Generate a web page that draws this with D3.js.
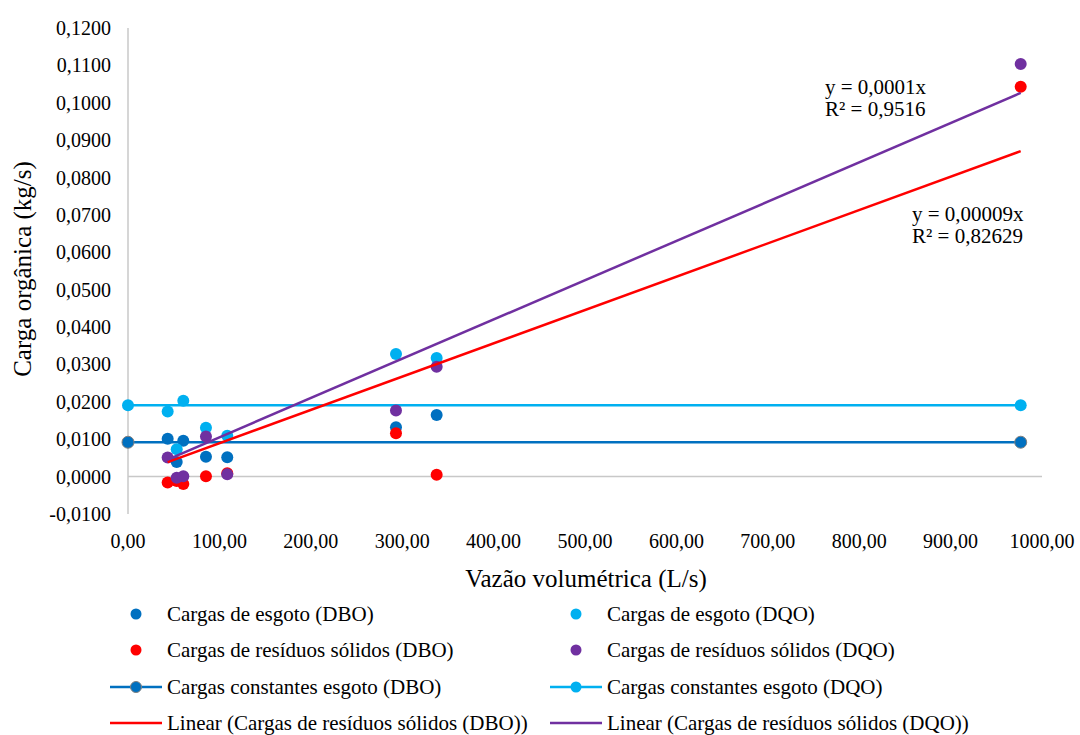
<!DOCTYPE html>
<html>
<head>
<meta charset="utf-8">
<script src="https://cdn.jsdelivr.net/npm/d3@7"></script>
<style>
  body { margin: 0; background: #fff; }
  text { font-family: "Liberation Serif", "Times New Roman", serif; fill: #000; }
</style>
</head>
<body>
<div class="canvas"></div>
<script>
// data
const vazao = [43.4, 53.3, 60.5, 85.3, 108.6, 293.2, 337.7];
const vazaoRes = [43.4, 53.3, 60.5, 85.3, 108.6, 293.2, 337.7, 976.7];
const esgotoDBO = [0.0101, 0.0039, 0.0096, 0.0053, 0.0052, 0.0132, 0.0165];
const esgotoDQO = [0.0174, 0.0073, 0.0203, 0.0131, 0.0109, 0.0328, 0.0317];
const residuosDBO = [-0.0016, -0.0012, -0.0020, 0.0001, 0.0009, 0.0116, 0.0005, 0.1043];
const residuosDQO = [0.0051, -0.0003, 0.0001, 0.0107, 0.0006, 0.0177, 0.0294, 0.1104];
const constX = [0, 976.7];
const constDBO = [0.0092, 0.0092];
const constDQO = [0.0191, 0.0191];
const xTicks = [0, 100, 200, 300, 400, 500, 600, 700, 800, 900, 1000];
const yTicks = [-0.01, 0, 0.01, 0.02, 0.03, 0.04, 0.05, 0.06, 0.07, 0.08, 0.09, 0.10, 0.11, 0.12];
const eqDQO = ['y = 0,0001x', 'R² = 0,9516'];
const eqDBO = ['y = 0,00009x', 'R² = 0,82629'];

const colours = { dbo: '#0070C0', dqo: '#00B0F0', red: '#FF0000', purple: '#7030A0' };

const dims = { width: 1080, height: 735 };
const svg = d3.select('.canvas')
    .append('svg')
    .attr('width', dims.width)
    .attr('height', dims.height);

const x = d3.scaleLinear().domain([0, 1000]).range([128, 1042]);
const y = d3.scaleLinear().domain([-0.01, 0.12]).range([514, 28]);

const fmtY = d => d3.format('.4f')(d).replace('.', ',').replace('−', '-');
const fmtX = d => d3.format('.2f')(d).replace('.', ',');

// axis lines (Excel style, x axis crosses at 0)
svg.append('line')
    .attr('x1', x(0)).attr('x2', x(0))
    .attr('y1', y(0.12)).attr('y2', y(-0.01))
    .attr('stroke', '#c8c8c8').attr('stroke-width', 1.5);
svg.append('line')
    .attr('x1', x(0)).attr('x2', x(1000))
    .attr('y1', y(0)).attr('y2', y(0))
    .attr('stroke', '#c8c8c8').attr('stroke-width', 1.5);

// tick labels
svg.append('g').selectAll('text')
    .data(yTicks)
    .join('text')
    .attr('x', 111)
    .attr('y', d => y(d))
    .attr('dy', '0.35em')
    .attr('text-anchor', 'end')
    .attr('font-size', 20)
    .text(fmtY);

svg.append('g').selectAll('text')
    .data(xTicks)
    .join('text')
    .attr('x', d => x(d))
    .attr('y', 548)
    .attr('text-anchor', 'middle')
    .attr('font-size', 20)
    .text(fmtX);

// axis titles
svg.append('text')
    .attr('transform', 'translate(31, 269) rotate(-90)')
    .attr('text-anchor', 'middle')
    .attr('font-size', 25)
    .text('Carga orgânica (kg/s)');
svg.append('text')
    .attr('x', 586).attr('y', 587)
    .attr('text-anchor', 'middle')
    .attr('font-size', 25)
    .text('Vazão volumétrica (L/s)');

const line = d3.line().x(d => x(d[0])).y(d => y(d[1]));
const graph = svg.append('g');

// constant lines
const constants = [
    { vals: constDBO, colour: colours.dbo, stroke: '#7f7f7f' },
    { vals: constDQO, colour: colours.dqo, stroke: 'none' }
];
constants.forEach(c => {
    const pts = d3.zip(constX, c.vals);
    graph.append('path')
        .attr('d', line(pts))
        .attr('fill', 'none')
        .attr('stroke', c.colour)
        .attr('stroke-width', 2.5);
    graph.selectAll(null)
        .data(pts)
        .join('circle')
        .attr('cx', d => x(d[0]))
        .attr('cy', d => y(d[1]))
        .attr('r', 6)
        .attr('fill', c.colour)
        .attr('stroke', c.stroke)
        .attr('stroke-width', 1);
});

// scatter series
const scatter = [
    { xs: vazao, ys: esgotoDBO, colour: colours.dbo },
    { xs: vazao, ys: esgotoDQO, colour: colours.dqo },
    { xs: vazaoRes, ys: residuosDBO, colour: colours.red },
    { xs: vazaoRes, ys: residuosDQO, colour: colours.purple }
];
scatter.forEach(s => {
    graph.selectAll(null)
        .data(d3.zip(s.xs, s.ys))
        .join('circle')
        .attr('cx', d => x(d[0]))
        .attr('cy', d => y(d[1]))
        .attr('r', 6)
        .attr('fill', s.colour);
});

// linear trendlines through origin (least squares)
const slope = (xs, ys) => d3.sum(xs, (v, i) => v * ys[i]) / d3.sum(xs, v => v * v);
[
    { ys: residuosDBO, colour: colours.red },
    { ys: residuosDQO, colour: colours.purple }
].forEach(t => {
    const m = slope(vazaoRes, t.ys);
    const [x0, x1] = d3.extent(vazaoRes);
    graph.append('path')
        .attr('d', line([[x0, m * x0], [x1, m * x1]]))
        .attr('fill', 'none')
        .attr('stroke', t.colour)
        .attr('stroke-width', 2.5);
});

// trendline equations
const eq = (lines, px, py) => {
    svg.append('text')
        .attr('x', px).attr('y', py)
        .attr('font-size', 21)
        .selectAll('tspan')
        .data(lines)
        .join('tspan')
        .attr('x', px)
        .attr('dy', (d, i) => i ? 22 : 0)
        .text(d => d);
};
eq(eqDQO, 825, 94);
eq(eqDBO, 912, 221);

// legend
const legendItems = [
    { label: 'Cargas de esgoto (DBO)', colour: colours.dbo, type: 'dot' },
    { label: 'Cargas de esgoto (DQO)', colour: colours.dqo, type: 'dot' },
    { label: 'Cargas de resíduos sólidos (DBO)', colour: colours.red, type: 'dot' },
    { label: 'Cargas de resíduos sólidos (DQO)', colour: colours.purple, type: 'dot' },
    { label: 'Cargas constantes esgoto (DBO)', colour: colours.dbo, type: 'linedot', stroke: '#7f7f7f' },
    { label: 'Cargas constantes esgoto (DQO)', colour: colours.dqo, type: 'linedot', stroke: 'none' },
    { label: 'Linear (Cargas de resíduos sólidos (DBO))', colour: colours.red, type: 'line' },
    { label: 'Linear (Cargas de resíduos sólidos (DQO))', colour: colours.purple, type: 'line' }
];
const colX = [110, 550];
const rowY = [614, 650, 687, 723];
const legend = svg.append('g');
legendItems.forEach((d, i) => {
    const g = legend.append('g')
        .attr('transform', `translate(${colX[i % 2]}, ${rowY[Math.floor(i / 2)]})`);
    if (d.type !== 'dot') {
        g.append('line')
            .attr('x1', 0).attr('x2', 52)
            .attr('stroke', d.colour).attr('stroke-width', 2.5);
    }
    if (d.type !== 'line') {
        g.append('circle')
            .attr('cx', 26).attr('r', 5.5)
            .attr('fill', d.colour)
            .attr('stroke', d.stroke || 'none')
            .attr('stroke-width', 1);
    }
    g.append('text')
        .attr('x', 57).attr('dy', '0.33em')
        .attr('font-size', 21)
        .text(d.label);
});
</script>
</body>
</html>
